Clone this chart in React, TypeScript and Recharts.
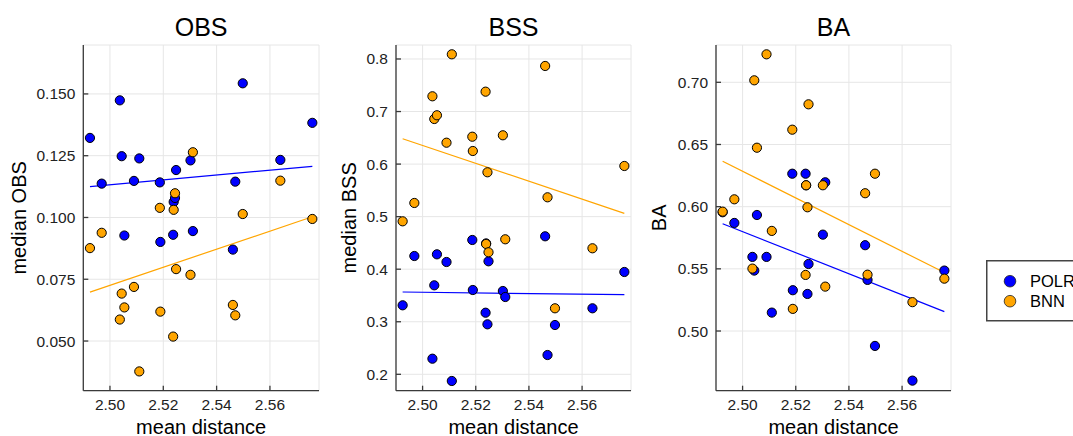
import React from 'react';
import { ComposedChart, Scatter, Line, XAxis, YAxis, CartesianGrid } from 'recharts';

// mean distance of each model (shared by all three panels)
const meanDistance = [
  2.4925, 2.4969, 2.5037, 2.5044, 2.5054, 2.509, 2.511, 2.5187, 2.5189, 2.5237,
  2.5239, 2.5244, 2.5248, 2.5302, 2.5311, 2.5461, 2.547, 2.5498, 2.5639, 2.5759,
];

const obsPolr = [
  0.1322, 0.1137, 0.1474, 0.1248, 0.0927, 0.1148, 0.1239, 0.1142, 0.0901, 0.093,
  0.1063, 0.1079, 0.1192, 0.1231, 0.0945, 0.087, 0.1145, 0.1543, 0.1233, 0.1383,
];
const obsBnn = [
  0.0876, 0.0938, 0.0587, 0.0692, 0.0636, 0.0719, 0.0377, 0.1039, 0.0619, 0.0518,
  0.1031, 0.1098, 0.0791, 0.0768, 0.1264, 0.0646, 0.0604, 0.1014, 0.1149, 0.0994,
];

const bssPolr = [
  0.3313, 0.4251, 0.2297, 0.3693, 0.4283, 0.4137, 0.1873, 0.4556, 0.3604, 0.3172,
  0.449, 0.2951, 0.415, 0.3585, 0.3471, 0.4626, 0.2367, 0.2938, 0.3256, 0.3947,
];
const bssBnn = [
  0.4911, 0.526, 0.729, 0.6858, 0.6929, 0.6407, 0.8089, 0.6521, 0.6249, 0.7378,
  0.448, 0.5844, 0.4322, 0.6548, 0.4569, 0.7867, 0.5368, 0.3256, 0.4398, 0.5964,
];

const baPolr = [
  0.5955, 0.5869, 0.5596, 0.5486, 0.5933, 0.5596, 0.5148, 0.6265, 0.5328, 0.6265,
  0.6172, 0.5298, 0.5539, 0.5775, 0.6196, 0.569, 0.5411, 0.488, 0.4601, 0.5486,
];
const baBnn = [
  0.596, 0.6059, 0.5502, 0.7016, 0.6474, 0.7225, 0.5805, 0.6619, 0.5178, 0.5451,
  0.6172, 0.5995, 0.6823, 0.6172, 0.5357, 0.6108, 0.5453, 0.6265, 0.5232, 0.5421,
];

// fitted lines, read at the first and last mean distance
const fitX = [2.4925, 2.5759];
const obsPolrFit = [0.1125, 0.1207];
const obsBnnFit = [0.0698, 0.1003];
const bssPolrFit = [0.3566, 0.3515];
const bssBnnFit = [0.6483, 0.5063];
const baPolrFit = [0.5863, 0.5156];
const baBnnFit = [0.6365, 0.547];

const xTicks = [2.5, 2.52, 2.54, 2.56];
const obsTicks = [0.05, 0.075, 0.1, 0.125, 0.15];
const bssTicks = [0.2, 0.3, 0.4, 0.5, 0.6, 0.7, 0.8];
const baTicks = [0.5, 0.55, 0.6, 0.65, 0.7];

const seriesNames = ['POLR', 'BNN'];
const seriesColors = ['#0000ff', '#ffa500'];

const FONT = '"Liberation Sans", Arial, Helvetica, sans-serif';
const H = 436;

const toPoints = (ys: number[]) => meanDistance.map((x, i) => ({ x, y: ys[i] }));
const toFit = (ys: number[]) => fitX.map((x, i) => ({ x, y: ys[i] }));

const dot = (color: string) => (props: any) =>
  <circle cx={props.cx} cy={props.cy} r={4.6} fill={color} stroke="#000" strokeWidth={1} />;

const xLabel = (props: any) => {
  const vb = props.viewBox;
  return (
    <text x={vb.x + vb.width / 2} y={vb.y + vb.height - 2.5} textAnchor="middle" fontSize={20} fill="#000">
      mean distance
    </text>
  );
};

const yLabel = (text: string) => (props: any) => {
  const vb = props.viewBox;
  const x = vb.x + 26;
  const y = vb.y + vb.height / 2;
  return (
    <text x={x} y={y} transform={`rotate(-90, ${x}, ${y})`} textAnchor="middle" fontSize={20} fill="#000">
      {text}
    </text>
  );
};

interface PanelProps {
  title: string;
  yName: string;
  polr: number[];
  bnn: number[];
  polrFit: number[];
  bnnFit: number[];
  yDomain: [number, number];
  yTicks: number[];
  digits: number;
  left: number;
  width: number;
  yAxisWidth: number;
  rightMargin: number;
}

const Panel = (p: PanelProps) => (
  <div style={{ position: 'absolute', left: p.left, top: 0, width: p.width, height: H }}>
    <div
      style={{
        position: 'absolute',
        left: p.yAxisWidth,
        width: p.width - p.yAxisWidth - p.rightMargin,
        top: 14.8,
        textAlign: 'center',
        fontSize: 25,
        lineHeight: '25px',
        fontFamily: FONT,
        color: '#000',
      }}
    >
      {p.title}
    </div>
    <ComposedChart
      width={p.width}
      height={H}
      margin={{ top: 45, right: p.rightMargin, bottom: 0, left: 0 }}
      style={{ fontFamily: FONT }}
    >
      <CartesianGrid stroke="#e6e6e6" strokeWidth={1} />
      <XAxis
        type="number"
        dataKey="x"
        domain={[2.49, 2.5784]}
        allowDataOverflow
        ticks={xTicks}
        interval={0}
        tickFormatter={(v: number) => v.toFixed(2)}
        height={45.3}
        tickSize={-5}
        tickMargin={13.3}
        stroke="#3a3a3a"
        strokeWidth={1.3}
        tick={{ fontSize: 15.5, fill: '#222' }}
        label={xLabel}
      />
      <YAxis
        type="number"
        dataKey="y"
        domain={p.yDomain}
        allowDataOverflow
        ticks={p.yTicks}
        interval={0}
        tickFormatter={(v: number) => v.toFixed(p.digits)}
        width={p.yAxisWidth}
        tickSize={-5}
        tickMargin={13}
        stroke="#3a3a3a"
        strokeWidth={1.3}
        tick={{ fontSize: 15.5, fill: '#222' }}
        label={yLabel(p.yName)}
      />
      <Line data={toFit(p.polrFit)} dataKey="y" stroke={seriesColors[0]} strokeWidth={1.2} dot={false} activeDot={false} isAnimationActive={false} />
      <Line data={toFit(p.bnnFit)} dataKey="y" stroke={seriesColors[1]} strokeWidth={1.2} dot={false} activeDot={false} isAnimationActive={false} />
      <Scatter name={seriesNames[0]} data={toPoints(p.polr)} shape={dot(seriesColors[0])} isAnimationActive={false} />
      <Scatter name={seriesNames[1]} data={toPoints(p.bnn)} shape={dot(seriesColors[1])} isAnimationActive={false} />
    </ComposedChart>
  </div>
);

const LegendBox = () => (
  <svg width={87} height={62} style={{ position: 'absolute', left: 986, top: 259.5 }}>
    <rect x={0.75} y={0.75} width={120} height={60} fill="#fff" stroke="#444" strokeWidth={1.5} />
    {seriesNames.map((name, i) => (
      <g key={name}>
        <circle cx={24} cy={21.2 + i * 20} r={5.8} fill={seriesColors[i]} stroke="#222" strokeWidth={0.8} />
        <text x={44} y={27.2 + i * 20} fontSize={16.5} fontFamily={FONT} fill="#000">
          {name}
        </text>
      </g>
    ))}
  </svg>
);

export default function App() {
  return (
    <div style={{ position: 'absolute', left: 0, top: 0, width: 1073, height: H, overflow: 'hidden', background: '#fff' }}>
      <Panel
        title="OBS" yName="median OBS" polr={obsPolr} bnn={obsBnn} polrFit={obsPolrFit} bnnFit={obsBnnFit}
        yDomain={[0.0299, 0.1698]} yTicks={obsTicks} digits={3}
        left={0} width={330} yAxisWidth={83.3} rightMargin={11}
      />
      <Panel
        title="BSS" yName="median BSS" polr={bssPolr} bnn={bssBnn} polrFit={bssPolrFit} bnnFit={bssBnnFit}
        yDomain={[0.1688, 0.8266]} yTicks={bssTicks} digits={1}
        left={330} width={310} yAxisWidth={66} rightMargin={9}
      />
      <Panel
        title="BA" yName="BA" polr={baPolr} bnn={baBnn} polrFit={baPolrFit} bnnFit={baBnnFit}
        yDomain={[0.452, 0.73]} yTicks={baTicks} digits={2}
        left={640} width={433} yAxisWidth={76} rightMargin={122}
      />
      <LegendBox />
    </div>
  );
}
